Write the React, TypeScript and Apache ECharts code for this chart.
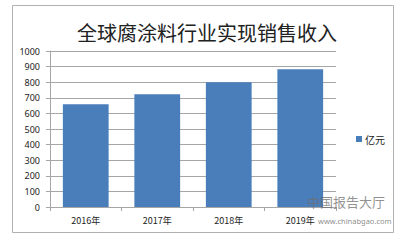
import React, { useEffect, useRef } from "react";
import * as echarts from "echarts";

const categories = ["2016年", "2017年", "2018年", "2019年"];
const revenue = [658, 722, 800, 883];
const seriesName = "亿元";
const titleText = "全球腐涂料行业实现销售收入";
const watermarkName = "中国报告大厅";
const watermarkUrl = "www.chinabgao.com";

export default function App() {
  const ref = useRef<HTMLDivElement>(null);
  useEffect(() => {
    document.body.style.margin = "0";
    const chart = echarts.init(ref.current!, null, { renderer: "svg" });
    chart.setOption({
      animation: false,
      backgroundColor: "#ffffff",
      title: {
        text: titleText,
        left: 202,
        textAlign: "center",
        top: 17,
        textStyle: {
          fontFamily: "Noto Sans CJK SC",
          fontSize: 20,
          fontWeight: "normal",
          color: "#222",
        },
      },
      grid: { left: 50, top: 51, width: 286, height: 156, containLabel: false },
      legend: {
        show: true,
        left: 351,
        top: 129,
        itemWidth: 6,
        itemHeight: 6,
        itemGap: 4,
        icon: "rect",
        textStyle: { fontSize: 10, color: "#222", fontFamily: "Noto Sans CJK SC", padding: [0, 0, 0, -2] },
        data: [seriesName],
      },
      xAxis: {
        type: "category",
        data: categories,
        axisLine: { lineStyle: { color: "#a6a6a6" } },
        axisTick: { show: true, length: 4, lineStyle: { color: "#a6a6a6" } },
        axisLabel: { fontSize: 9, color: "#222", margin: 9, fontFamily: "Noto Sans CJK SC" },
      },
      yAxis: {
        type: "value",
        min: 0,
        max: 1000,
        interval: 100,
        axisLine: { show: true, lineStyle: { color: "#a6a6a6" } },
        axisTick: { show: true, length: 4, lineStyle: { color: "#a6a6a6" } },
        axisLabel: {
          fontSize: 9,
          color: "#222",
          margin: 10,
          fontFamily: "Noto Sans",
          formatter: (v: number) => String(v),
        },
        splitLine: { lineStyle: { color: "#a6a6a6" } },
      },
      series: [
        {
          name: seriesName,
          type: "bar",
          data: revenue,
          barWidth: "64%",
          itemStyle: { color: "#4a7ebb" },
        },
      ],
      graphic: [
        {
          type: "rect",
          shape: { x: 12.5, y: 5.5, width: 381, height: 227 },
          style: { fill: "none", stroke: "#b0b0b0", lineWidth: 1 },
          silent: true,
        },
        {
          type: "text",
          left: 307,
          top: 195,
          z: 100,
          style: { text: watermarkName, fontSize: 13, fill: "rgba(110,110,110,0.75)", fontFamily: "Noto Sans CJK SC" },
          silent: true,
        },
        {
          type: "text",
          left: 318,
          top: 217,
          z: 100,
          style: { text: watermarkUrl, fontSize: 7.5, fill: "rgba(110,110,110,0.8)", fontFamily: "Noto Sans" },
          silent: true,
        },
      ],
    });
    return () => chart.dispose();
  }, []);
  return <div ref={ref} style={{ width: 407, height: 240 }} />;
}
